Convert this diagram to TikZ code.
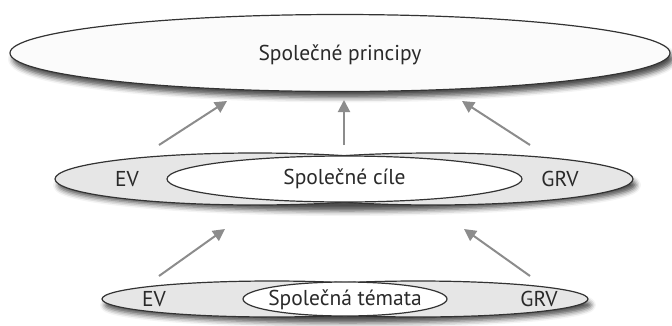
\documentclass[tikz,border=0pt]{standalone}
\usepackage{fontspec}
\setmainfont{PT Sans}
\usetikzlibrary{shapes.geometric,arrows.meta,shadows.blur}
\definecolor{edge}{HTML}{333333}
\definecolor{sidegray}{HTML}{E6E6E6}
\definecolor{topfill}{HTML}{FBFBFB}
\definecolor{ink}{HTML}{2A2A2A}
\definecolor{arrgray}{HTML}{8C8C8C}
\begin{document}
\begin{tikzpicture}[x=1pt,y=-1pt,
  oval/.style={ellipse,draw=edge,line width=1.2pt,inner sep=0pt,outer sep=0pt},
  fillonly/.style={ellipse,inner sep=0pt,outer sep=0pt,fill=sidegray},
  txt/.style={font=\fontsize{21.5}{25}\selectfont,text=ink,inner sep=0pt},
  arr/.style={draw=arrgray,line width=2pt,-{Triangle[length=12pt,width=12pt]}},
  shade/.style={blur shadow={shadow xshift=3pt,shadow yshift=-6pt,shadow blur radius=5pt,shadow opacity=70}}]
\useasboundingbox (0,0) rectangle (672,325);

% top ellipse
\node[oval,fill=topfill,minimum width=660pt,minimum height=77pt,shade] (principy) at (340,53) {};
\node[txt] (principytxt) at (340,55) {Společné principy};

% middle row
\path[shade] (344,179) ellipse [x radius=289pt,y radius=26pt];
\node[fillonly,minimum width=400pt,minimum height=52pt] (cileEV) at (255,179) {};
\node[fillonly,minimum width=400pt,minimum height=52pt] (cileGRV) at (433,179) {};
\draw[edge,line width=1.2pt] (cileEV.center) ellipse [x radius=200pt,y radius=26pt];
\draw[edge,line width=1.2pt] (cileGRV.center) ellipse [x radius=200pt,y radius=26pt];
\node[oval,fill=white,minimum width=355pt,minimum height=46pt] (cile) at (344.5,179) {};
\node[txt] (ciletxt) at (344.5,179) {Společné cíle};
\node[txt] (ev1) at (127,179) {EV};
\node[txt] (grv1) at (560,179) {GRV};

% bottom row
\path[shade] (345,299) ellipse [x radius=243pt,y radius=18pt];
\node[fillonly,minimum width=340pt,minimum height=36pt] (temEV) at (272,299) {};
\node[fillonly,minimum width=340pt,minimum height=36pt] (temGRV) at (418,299) {};
\draw[edge,line width=1.2pt] (temEV.center) ellipse [x radius=170pt,y radius=18pt];
\draw[edge,line width=1.2pt] (temGRV.center) ellipse [x radius=170pt,y radius=18pt];
\node[oval,fill=white,minimum width=204pt,minimum height=34pt] (tema) at (345,299) {};
\node[txt] (tematxt) at (345,300) {Společná témata};
\node[txt] (ev2) at (154,299) {EV};
\node[txt] (grv2) at (539,299) {GRV};

% arrows
\coordinate (a1s) at (159,145); \coordinate (a1e) at (227,101);
\coordinate (a2s) at (344,145); \coordinate (a2e) at (344,100);
\coordinate (a3s) at (530,145); \coordinate (a3e) at (462,101);
\coordinate (b1s) at (159,276); \coordinate (b1e) at (225,229);
\coordinate (b2s) at (530,276); \coordinate (b2e) at (464,229);
\draw[arr] (a1s) -- (a1e);
\draw[arr] (a2s) -- (a2e);
\draw[arr] (a3s) -- (a3e);
\draw[arr] (b1s) -- (b1e);
\draw[arr] (b2s) -- (b2e);
\end{tikzpicture}
\end{document}
